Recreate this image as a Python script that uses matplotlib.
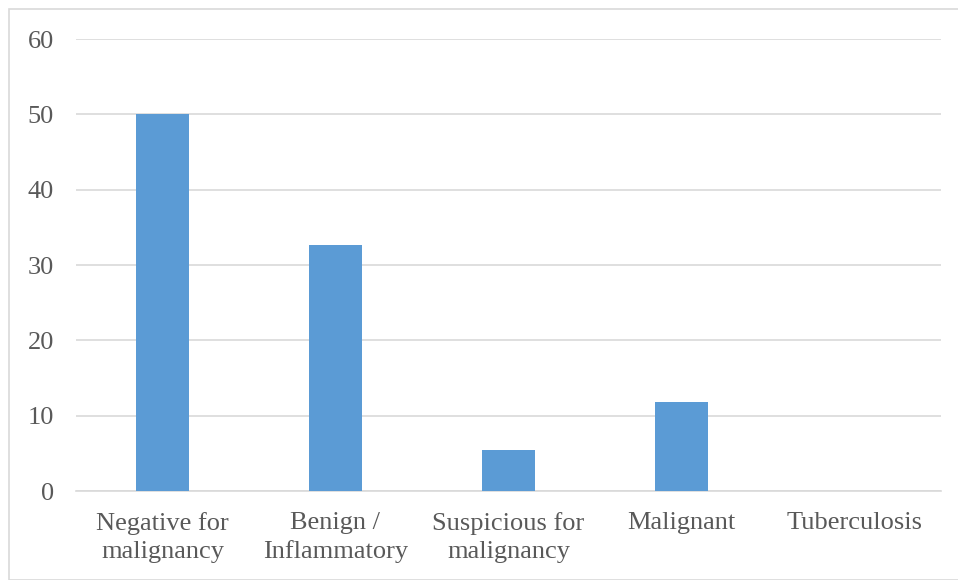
import matplotlib
matplotlib.use("Agg")
import matplotlib.pyplot as plt
from matplotlib.patches import Rectangle

categories = ["Negative for\nmalignancy", "Benign /\nInflammatory", "Suspicious for\nmalignancy",
              "Malignant", "Tuberculosis"]
values = [50.0, 32.7, 5.4, 11.8, 0.0]
yticks = [0, 10, 20, 30, 40, 50, 60]

plt.rcParams["font.family"] = ["Liberation Serif", "DejaVu Serif"]
text_color = "#595959"
grid_color = "#d9d9d9"

fig = plt.figure(figsize=(9.58, 5.80), dpi=100)
ax = fig.add_axes([76 / 958, 1 - 491 / 580, (941 - 76) / 958, (491 - 39) / 580])

x = range(len(categories))
ax.bar(x, values, width=0.31, color="#5b9bd5", zorder=3)

ax.set_xlim(-0.5, len(categories) - 0.5)
ax.set_ylim(0, 60)
ax.set_yticks(yticks)
ax.set_yticklabels([str(t) for t in yticks])
ax.set_xticks(list(x))
ax.set_xticklabels(categories)
ax.yaxis.grid(True, color=grid_color, linewidth=1.2, zorder=0)
ax.tick_params(axis="both", length=0, labelsize=19, colors=text_color)
ax.tick_params(axis="y", pad=16)
ax.tick_params(axis="x", pad=15)
for lbl in ax.get_xticklabels():
    lbl.set_linespacing(1.35)
for side in ("top", "right", "left"):
    ax.spines[side].set_visible(False)
ax.spines["bottom"].set_color(grid_color)
ax.spines["bottom"].set_linewidth(1.2)

# outer chart border
fig.patches.append(Rectangle((9 / 958, 0), 1 - 9 / 958 + 0.01, 1 - 9 / 580,
                             transform=fig.transFigure, fill=False,
                             edgecolor=grid_color, linewidth=1.2))

fig.savefig("out.png", dpi=100)
